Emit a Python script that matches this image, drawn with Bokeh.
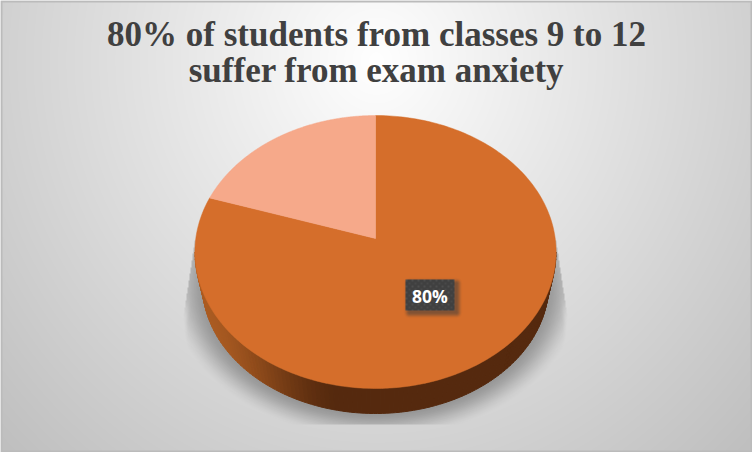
import numpy as np
from bokeh.plotting import figure
from bokeh.models import Range1d
from bokeh.core.properties import value
from bokeh.embed import file_html
from bokeh.resources import INLINE

# ---- data ----
categories = ["Suffer from exam anxiety", "Do not"]
shares = [80, 20]
slice_colors = ["#D56E2B", "#F6A98A"]
title_lines = ["80% of students from classes 9 to 12", "suffer from exam anxiety"]

W, H = 752, 452
X0, X1, Y0, Y1 = 0, 752, 0, 452
CX, CY_APEX = 375.0, 238.0
R_X, PERSP, B = 179.7, 0.0989, -111.6
SIDE_RX, SIDE_CY, SIDE_RY = 173.0, 284.0, 129.0
TOP_RX, TOP_CY, TOP_RY = 180.5, 251.5, 136.5


def fy(y):
    return H - np.asarray(y, dtype=float)


def project(theta):
    """Clockwise angle from the top on the pie disc -> page pixels."""
    u, v = np.sin(theta), np.cos(theta)
    d = 1 + PERSP * v
    return CX + R_X * u / d, (CY_APEX + B * v) / d


def smooth(a, b, x):
    t = np.clip((x - a) / (b - a), 0, 1)
    return t * t * (3 - 2 * t)


def to_rgba(gray, alpha):
    arr = np.zeros(gray.shape, dtype=np.uint32)
    view = arr.view(dtype=np.uint8).reshape(gray.shape + (4,))
    view[..., 0] = view[..., 1] = view[..., 2] = np.clip(gray, 0, 255).astype(np.uint8)
    view[..., 3] = np.clip(alpha * 255, 0, 255).astype(np.uint8)
    return arr[::-1]


p = figure(width=X1 - X0, height=Y1 - Y0, output_backend="svg", toolbar_location=None,
           x_range=Range1d(X0, X1), y_range=Range1d(H - Y1, H - Y0), min_border=0)
p.axis.visible = False
p.grid.visible = False
p.outline_line_color = None
p.background_fill_color = "#e8e8e8"
p.border_fill_color = None

# page background
yy, xx = np.mgrid[Y0:Y1, X0:X1] + 0.5
d = np.sqrt(((xx - 376) / 376) ** 2 + ((yy - 60) / 400) ** 2)
bg = 255 - 46 * d
# thin frame of the chart area
frame = (yy < 2) | (yy > H - 2) | (xx < 2) | (xx > W - 2)
bg = np.where(frame, 187.0, bg)
p.image_rgba(image=[to_rgba(bg, np.ones_like(bg))], x=X0, y=H - Y1, dw=X1 - X0, dh=Y1 - Y0)

# soft floor shadow: blurred below, cut along straight edges at the flanks
e = np.sqrt(((xx - CX) / SIDE_RX) ** 2 + ((yy - SIDE_CY) / SIDE_RY) ** 2)
dist = (e - 1) * 150
dx = np.abs(xx - CX)
flank = 180.5 + 12 * (np.minimum(yy, 320) - 240) / 80
inside = (yy >= 240) & (yy < 424) & (dx <= flank)
soft_end = 1 - smooth(flank - 6, flank, dx) * smooth(295, 325, yy)
sa = 0.31 * (1 - smooth(-3, 31, dist)) * inside * soft_end
p.image_rgba(image=[to_rgba(np.zeros_like(sa), sa)], x=X0, y=H - Y1, dw=X1 - X0, dh=Y1 - Y0)

# pie side, shaded in strips
edges = np.linspace(np.pi, 0, 121)
sx, sy, sc = [], [], []
c_light, c_dark = np.array([172, 92, 34]), np.array([85, 41, 14])
for a0, a1 in zip(edges[:-1], edges[1:]):
    t = np.linspace(a0, a1, 3)
    top_x = CX + TOP_RX * np.cos(t)
    top_y = TOP_CY + TOP_RY * np.sin(t)
    bot_x = CX + SIDE_RX * np.cos(t)
    bot_y = SIDE_CY + SIDE_RY * np.sin(t)
    sx.append(np.r_[top_x, bot_x[::-1]])
    sy.append(fy(np.r_[top_y, bot_y[::-1]]))
    f = smooth(205, 345, bot_x.mean())
    col = c_light + (c_dark - c_light) * f
    sc.append("#%02x%02x%02x" % tuple(int(v) for v in col))
p.patches(sx, sy, fill_color=sc, line_color=sc, line_width=1)

# pie top, slices drawn from the shares (second slice ends at 12 o'clock)
total = sum(shares)
start = 0.0
for share, col in zip(shares, slice_colors):
    sweep = 2 * np.pi * share / total
    th = np.linspace(start, start + sweep, 240)
    px, py = project(th)
    p.patch(np.r_[CX, px], fy(np.r_[CY_APEX, py]), fill_color=col, line_color=col, line_width=0.5)
    start += sweep

# data label box: shadow, plate, dotted texture, text
bx0, bx1, by0, by1 = 405, 454, 279, 310
gy, gx = np.mgrid[by0 - 4:by1 + 14, bx0 - 4:bx1 + 14] + 0.5
ddx = np.maximum(np.maximum(bx0 + 4 - gx, gx - (bx1 + 2)), 0)
ddy = np.maximum(np.maximum(by0 + 4 - gy, gy - (by1 + 2)), 0)
ba = 0.55 * (1 - smooth(0, 6, np.hypot(ddx, ddy)))
p.image_rgba(image=[to_rgba(np.full(ba.shape, 60.0), ba)], x=bx0 - 4, y=H - (by1 + 14),
             dw=bx1 - bx0 + 18, dh=by1 - by0 + 18)
ty, tx = np.mgrid[by0:by1, bx0:bx1]
tex = 64 + 14 * (((tx - bx0) % 6 < 2) & ((ty - by0) % 6 < 2))
tex = tex + 9 * (((tx - bx0 + 3) % 6 < 2) & ((ty - by0 + 3) % 6 < 2))
p.image_rgba(image=[to_rgba(tex.astype(float), np.ones_like(tex, dtype=float))], x=bx0, y=H - by1,
             dw=bx1 - bx0, dh=by1 - by0)
p.text(x=[(bx0 + bx1) / 2], y=[fy((by0 + by1) / 2 + 0.5)], text=[f"{shares[0]}%"],
       text_color="#ffffff", text_font=value("Open Sans"), text_font_style="bold",
       text_font_size="17.5px", text_align="center", text_baseline="middle")

# title
p.text(x=[376, 376], y=[fy(33.5), fy(69.5)], text=title_lines,
       text_color="#404040", text_font=value("Liberation Serif"), text_font_style="bold",
       text_font_size="35px", text_align="center", text_baseline="middle")

open("out.html", "w").write(file_html(p, INLINE))
